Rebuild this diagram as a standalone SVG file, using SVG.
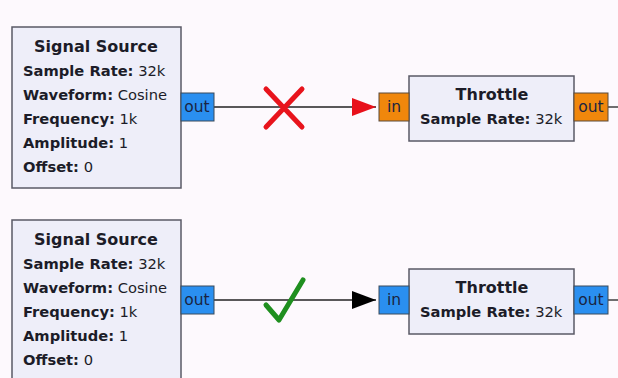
<svg xmlns="http://www.w3.org/2000/svg" width="618" height="378" viewBox="0 0 618 378">
<style>
.blk{fill:#eeeef9;stroke:#5a5a66;stroke-width:1.5}
.pb{fill:#2a8ff0;stroke:#3a4a5a;stroke-width:1}
.po{fill:#f0870c;stroke:#5a4a3a;stroke-width:1}
.t{font-family:"DejaVu Sans",sans-serif;font-size:14.7px;fill:#1c1c28}
.h{font-size:16px}
.b{font-weight:bold}
.pt{font-family:"DejaVu Sans",sans-serif;font-size:15.5px;fill:#1a2440}
.w{stroke:#222;stroke-width:1.3;fill:none}
</style>
<defs>
<marker id="ar" viewBox="0 0 24 18" refX="24" refY="9" markerWidth="24" markerHeight="18" markerUnits="userSpaceOnUse" orient="auto"><path d="M0,0 L24,9 L0,18 Z" fill="#e8101a"/></marker>
<marker id="ab" viewBox="0 0 24 18" refX="24" refY="9" markerWidth="24" markerHeight="18" markerUnits="userSpaceOnUse" orient="auto"><path d="M0,0 L24,9 L0,18 Z" fill="#000"/></marker>
</defs>
<rect width="618" height="378" fill="#fdf9fd"/>
<g id="connectors">
<path class="w" d="M214,107 H376" marker-end="url(#ar)"/>
<path class="w" d="M608,107 H618"/>
<path class="w" d="M214,300 H376" marker-end="url(#ab)"/>
<path class="w" d="M608,300 H618"/>
</g>
<g id="src1">
<rect class="blk" x="12" y="27" width="169" height="161"/>
<text class="t h b" x="96" y="52" text-anchor="middle">Signal Source</text>
<text class="t" x="23" y="76"><tspan class="b">Sample Rate:</tspan> 32k</text>
<text class="t" x="23" y="100"><tspan class="b">Waveform:</tspan> Cosine</text>
<text class="t" x="23" y="124"><tspan class="b">Frequency:</tspan> 1k</text>
<text class="t" x="23" y="148"><tspan class="b">Amplitude:</tspan> 1</text>
<text class="t" x="23" y="172"><tspan class="b">Offset:</tspan> 0</text>
<rect class="pb" x="181" y="93" width="33" height="28"/>
<text class="pt" x="197" y="112" text-anchor="middle">out</text>
</g>
<g id="thr1">
<rect class="blk" x="409" y="76" width="165" height="65"/>
<text class="t h b" x="492" y="100" text-anchor="middle">Throttle</text>
<text class="t" x="420" y="124"><tspan class="b">Sample Rate:</tspan> 32k</text>
<rect class="po" x="379" y="93" width="30" height="28"/>
<text class="pt" x="394" y="112" text-anchor="middle">in</text>
<rect class="po" x="574" y="93" width="34" height="28"/>
<text class="pt" x="591" y="112" text-anchor="middle">out</text>
</g>
<g id="cross">
<path d="M266,89 L302,127 M302,89 L266,127" stroke="#e8141c" stroke-width="5" stroke-linecap="round" fill="none"/>
</g>
<g id="src2">
<rect class="blk" x="12" y="220" width="169" height="170"/>
<text class="t h b" x="96" y="245" text-anchor="middle">Signal Source</text>
<text class="t" x="23" y="269"><tspan class="b">Sample Rate:</tspan> 32k</text>
<text class="t" x="23" y="293"><tspan class="b">Waveform:</tspan> Cosine</text>
<text class="t" x="23" y="317"><tspan class="b">Frequency:</tspan> 1k</text>
<text class="t" x="23" y="341"><tspan class="b">Amplitude:</tspan> 1</text>
<text class="t" x="23" y="365"><tspan class="b">Offset:</tspan> 0</text>
<rect class="pb" x="181" y="286" width="33" height="28"/>
<text class="pt" x="197" y="305" text-anchor="middle">out</text>
</g>
<g id="thr2">
<rect class="blk" x="409" y="269" width="165" height="65"/>
<text class="t h b" x="492" y="293" text-anchor="middle">Throttle</text>
<text class="t" x="420" y="317"><tspan class="b">Sample Rate:</tspan> 32k</text>
<rect class="pb" x="379" y="286" width="30" height="28"/>
<text class="pt" x="394" y="305" text-anchor="middle">in</text>
<rect class="pb" x="574" y="286" width="34" height="28"/>
<text class="pt" x="591" y="305" text-anchor="middle">out</text>
</g>
<g id="check">
<path d="M266,305 L279,320 L303,280" stroke="#1f8f1f" stroke-width="5" stroke-linecap="round" stroke-linejoin="round" fill="none"/>
</g>
</svg>
